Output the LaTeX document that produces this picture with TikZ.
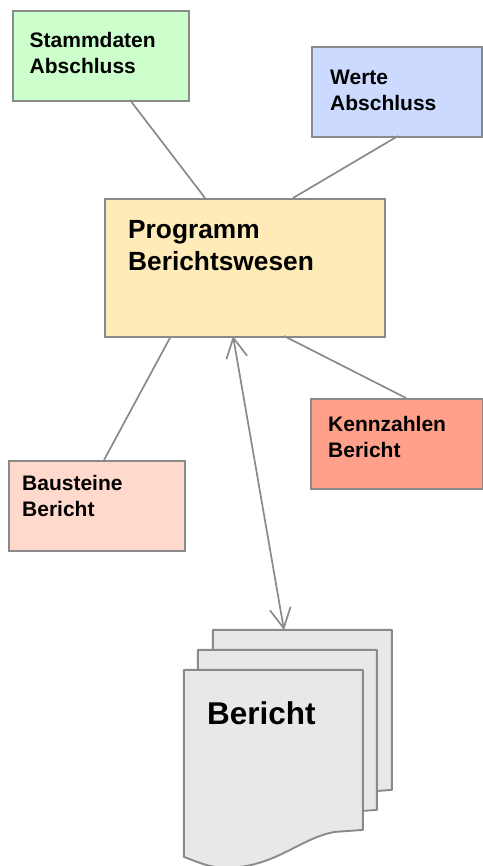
\documentclass[tikz,border=0pt]{standalone}
\usepackage{fontspec}
\setmainfont{Liberation Sans}
\usetikzlibrary{arrows.meta}
\definecolor{edgeg}{HTML}{8A8A8A}
\tikzset{x=1pt,y=-1pt,
 box/.style={draw=edgeg,line width=1.9pt,anchor=north west,inner sep=0pt},
 lab/.style={anchor=west,align=left,inner sep=0pt,text=black},
 conn/.style={draw=edgeg,line width=1.7pt},
 doc/.style={draw=edgeg,line width=1.9pt,fill=black!9,line join=round}}
\newcommand{\docshape}[2]{%
 \begin{scope}[shift={(#1,#2)}]
 \draw[doc] (0,0) -- (179,0) -- (179,160) -- (151,162) .. controls (116,168) and (91,198) .. (41,198) .. controls (26,198) and (11,191) .. (0,187) -- cycle;
 \end{scope}}
\begin{document}
\begin{tikzpicture}
\useasboundingbox (0,0) rectangle (482,866);
\node[box,fill={rgb,255:red,204;green,255;blue,204},minimum width=176pt,minimum height=90pt] (stamm) at (11.9,9.9) {};
\node[box,fill={rgb,255:red,204;green,218;blue,255},minimum width=170pt,minimum height=90pt] (werte) at (310.9,45.9) {};
\node[box,fill={rgb,255:red,255;green,235;blue,184},minimum width=280pt,minimum height=138pt] (prog) at (103.9,197.9) {};
\node[box,fill={rgb,255:red,255;green,160;blue,138},minimum width=172pt,minimum height=90pt] (kenn) at (309.9,397.9) {};
\node[box,fill={rgb,255:red,255;green,217;blue,204},minimum width=176pt,minimum height=90pt] (baus) at (7.9,459.9) {};
\node[lab,font=\bfseries\fontsize{21}{26}\selectfont] (t1) at (29.5,53) {Stammdaten\\Abschluss};
\node[lab,font=\bfseries\fontsize{21}{26}\selectfont] (t2) at (330,90) {Werte\\Abschluss};
\node[lab,font=\bfseries\fontsize{26.3}{32}\selectfont] (t3) at (128,245.5) {Programm\\Berichtswesen};
\node[lab,font=\bfseries\fontsize{21}{26}\selectfont] (t4) at (328,437) {Kennzahlen\\Bericht};
\node[lab,font=\bfseries\fontsize{21}{26}\selectfont] (t5) at (22,496) {Bausteine\\Bericht};
\coordinate (a1) at (130,100); \coordinate (a2) at (205,198);
\coordinate (b1) at (398,136); \coordinate (b2) at (293,198);
\coordinate (c1) at (171,336); \coordinate (c2) at (104,460);
\coordinate (d1) at (284,336); \coordinate (d2) at (406,398);
\draw[conn] (a1) -- (a2);
\draw[conn] (b1) -- (b2);
\draw[conn] (c1) -- (c2);
\draw[conn] (d1) -- (d2);
\docshape{212.9}{629.9}
\docshape{197.9}{649.9}
\docshape{183.9}{669.9}
\node[lab,font=\bfseries\fontsize{31.5}{36}\selectfont] (ber) at (207,713) {Bericht};
\coordinate (e1) at (233,336); \coordinate (e2) at (284,630);
\draw[conn,{Straight Barb[length=20pt,width=21pt]}-{Straight Barb[length=20pt,width=21pt]}] (e1) -- (e2);
\end{tikzpicture}
\end{document}
